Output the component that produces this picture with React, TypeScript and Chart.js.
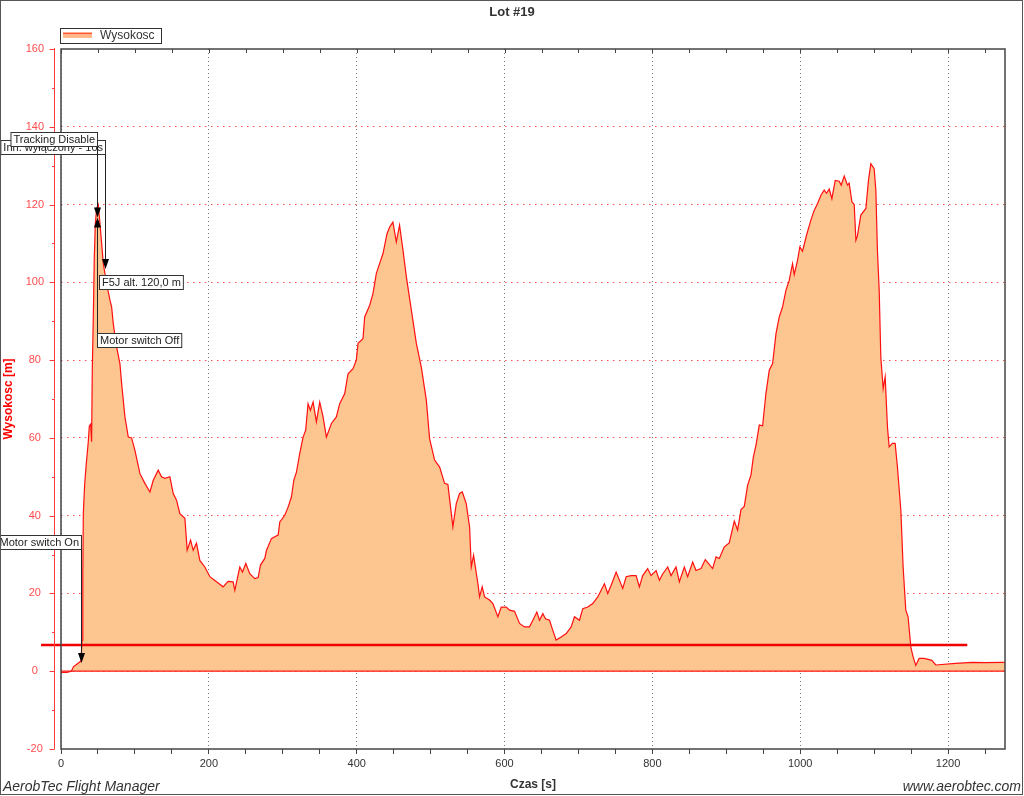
import React, { useEffect, useRef } from 'react';
import { Chart, registerables } from 'chart.js';

Chart.register(...registerables);

const TITLE = 'Lot #19';
const SERIES_LABEL = 'Wysokosc';
const X_TITLE = 'Czas [s]';
const Y_TITLE = 'Wysokosc [m]';
const FOOTER_LEFT = 'AerobTec Flight Manager';
const FOOTER_RIGHT = 'www.aerobtec.com';

const X_MIN = 0;
const X_MAX = 1277;
const Y_MIN = -20;
const Y_MAX = 160;
const X_LABEL_EVERY = 200;
const X_TICK_STEP = 50;
const Y_LABEL_EVERY = 20;
const Y_TICK_STEP = 10;

const timeSec = [
  0, 8, 14, 17, 20, 24, 27, 28.5, 29.5, 30.2, 32, 33.8, 36.9, 38.3, 40.1, 41.4, 42.3, 43.7, 45, 46.4,
  48.2, 50.5, 52.7, 55, 57.2, 61.7, 66.2, 68.5, 70.7, 75.2, 79.7, 82, 86.5, 91, 95.5, 100, 106.8, 113.5,
  120.3, 124.8, 131.5, 136, 140.5, 147.3, 151.8, 156.3, 160.8, 167.6, 170.7, 175.3, 178.8, 183.3, 187.8,
  194.6, 201.4, 210.4, 219.3, 226, 232.8, 235.1, 241.9, 245.5, 250, 255.4, 262.2, 266.7, 269.8, 275.7,
  278, 284.7, 289.2, 293.7, 296, 302.7, 307.2, 311.7, 314.9, 318.5, 323, 327.5, 331, 334.2, 337.4, 341,
  345.5, 350, 354.5, 359, 365.8, 372.5, 377, 383.8, 388.3, 395, 399.5, 401.8, 408.5, 410.8, 417.6, 422,
  426.6, 431, 435.6, 441, 444.6, 449, 453.6, 458, 462.6, 467.2, 474, 480.7, 487.4, 494.2, 498.6, 505.4,
  512.2, 518.9, 523.4, 530.1, 534.7, 539.2, 542.8, 548.2, 552.7, 555, 558.1, 564, 566.2, 569.8, 573,
  579.7, 584.2, 591, 595.5, 602.3, 606.8, 613.5, 620.3, 627, 633.8, 638.3, 643.7, 647.3, 651.8, 655.4,
  660.8, 665.3, 669.8, 676.6, 683.4, 690.1, 694.6, 701.4, 705.8, 712.6, 719.3, 726.1, 735.1, 739.6,
  744.2, 751, 759.9, 764.5, 771.2, 778, 782.4, 786.9, 793.6, 798.2, 805, 809.5, 813.9, 820.7, 825.3,
  832, 836.5, 843.2, 847.7, 854.5, 859, 865.8, 871.6, 881.5, 886.1, 890.5, 897.3, 904, 910.8, 915.3,
  919.9, 924.3, 928.8, 933.4, 936.5, 940.1, 944.6, 949.1, 953.6, 958.1, 962.6, 967.2, 971.6, 976.1,
  980.7, 985.1, 989.6, 991.9, 996.4, 999.5, 1003.1, 1008.5, 1014.4, 1018.9, 1023.4, 1028, 1032.4,
  1035.6, 1039.2, 1042.8, 1047.3, 1052.7, 1055.4, 1059.5, 1063.9, 1066.2, 1069.9, 1073, 1075.3, 1077.4,
  1082, 1088.8, 1092.3, 1095.5, 1100, 1102.3, 1104.4, 1106.8, 1109, 1112.2, 1114.9, 1118, 1120.3,
  1124.7, 1128.4, 1131.5, 1136.1, 1139.2, 1142.8, 1145.9, 1149.6, 1152.7, 1156.3, 1160.8, 1167.6,
  1174.3, 1178, 1183.4, 1210, 1233, 1250, 1273.4, 1277,
];

const altitude = [
  -0.3, -0.3, 0, 1.2, 1.6, 2.2, 2.6, 8, 25, 40.6, 48, 52.5, 59, 63, 63.5, 59, 77, 91, 106, 115,
  119, 120, 115.1, 110, 104.8, 99.7, 95.4, 93.7, 89.4, 83.4, 79.1, 74, 65.4, 60.2, 60, 56.8, 50.8, 48.3,
  46.1, 49.1, 51.7, 50, 49.6, 50, 45.7, 44, 40.5, 39.3, 31.1, 33.7, 31.1, 32.9, 28.5,
  26.8, 24.3, 23, 21.7, 23.1, 23, 20.8, 26.8, 25.5, 27.7, 25.1, 23.8, 24.1, 27.3, 29,
  31.1, 34.1, 34.6, 35, 38.4, 40.1, 42.2, 44.8, 49.1, 51.2, 56, 60.2, 62, 68.8, 67.1, 69.2,
  64.1, 69.2, 65.4, 60.2, 63.7, 65.4, 68.8, 71.4, 76.5, 77.8, 80, 84.3, 85.5, 91.1, 94.1, 97.1,
  102.3, 104.8, 107.4, 112.5, 114.2, 115.5, 110.4, 114.7, 108.3, 101.4, 92.8, 84.3, 78.2, 69.7, 59.8, 54.3,
  52.5, 48.3, 48, 37.1, 43.1, 45.7, 46.1, 43.1, 37.1, 26.8, 29.8, 22.5, 19.1, 21.7, 19.1,
  18.3, 17.4, 14, 16.5, 16.5, 15.7, 15.4, 12.3, 11.4, 11.4, 13.1, 15.2, 13.1, 14.8, 13.5,
  13.1, 10.5, 8, 8.8, 9.7, 11.4, 14, 13.1, 16.1, 16.5, 17.4, 19.1, 22.5, 20,
  22.1, 25.5, 21.3, 24.3, 24.6, 24.6, 21.7, 24.6, 26.4, 24.6, 25.9, 23.4, 25, 26.8, 24.6,
  26.8, 23, 26.8, 24.3, 28.1, 25.9, 26.4, 28.7, 26.4, 29.4, 29, 32, 33, 38.6, 36.3,
  41.6, 42.4, 47.8, 50.5, 55, 58.1, 63.3, 63.1, 71.4, 77.4, 79.1, 86.8, 91.1, 93.7,
  98, 100.5, 104.8, 102, 105.7, 109.1, 108, 112.1, 116, 118.5, 120.3, 122.4, 123.7,
  122.9, 124, 121.5, 126.2, 126, 125, 127.3, 125, 125.5, 120.7, 120, 110.8, 112,
  117.3, 119, 126.2, 130.5, 129.2, 123.7, 108.3, 98, 80.8, 72.7, 75.7, 62.8, 57.7,
  58.6, 58.6, 52.5, 41.4, 26.8, 15.7, 14, 6.2, 3.7, 1.5, 3.3, 3.3,
  3.0, 2.8, 1.6, 2.0, 2.3, 2.2, 2.3, 2.2,
];

// Horizontal reference line (data coords)
const refLineFrom = -27;
const refLineTo = 1226;
const refLineValue = 6.7;

// Event markers: arrow at (t, tip), label box edge at t, box vertical anchor value
const eventLabels = ['Motor switch On', 'Inn. wyłączony - 10s', 'Tracking Disable', 'Motor switch Off', 'F5J alt. 120,0 m'];
const eventTimes = [27, 59.5, 48.6, 48.6, 51.4];
const eventTips = [2.1, 103.4, 116.7, 116.7, null];
const eventBoxValues = [31.4, 132.9, 135.0, 86.9, 101.8];
const eventArrowDir = ['down', 'down', 'down', 'up', 'none'];

const FONT = '"Liberation Sans", Arial, Helvetica, sans-serif';

const decorPlugin = {
  id: 'decor',
  beforeDraw(chart: any) {
    const ctx = chart.ctx;
    ctx.save();
    ctx.fillStyle = '#ffffff';
    ctx.fillRect(0, 0, chart.width, chart.height);
    ctx.restore();
  },
  afterDatasetsDraw(chart: any) {
    const ctx: CanvasRenderingContext2D = chart.ctx;
    const a = chart.chartArea;
    const xs = chart.scales.x;
    const ys = chart.scales.y;
    ctx.save();

    // zero line
    const y0 = ys.getPixelForValue(0);
    ctx.strokeStyle = '#ff1a1a';
    ctx.lineWidth = 1.3;
    ctx.beginPath();
    ctx.moveTo(a.left, y0);
    ctx.lineTo(a.right, y0);
    ctx.stroke();

    // reference line
    const yr = Math.round(ys.getPixelForValue(refLineValue));
    ctx.strokeStyle = '#f00000';
    ctx.lineWidth = 2.5;
    ctx.beginPath();
    ctx.moveTo(xs.getPixelForValue(refLineFrom), yr);
    ctx.lineTo(xs.getPixelForValue(refLineTo), yr);
    ctx.stroke();

    // plot frame
    ctx.strokeStyle = '#444';
    ctx.lineWidth = 1.5;
    ctx.strokeRect(a.left, a.top, a.right - a.left, a.bottom - a.top);

    // top ticks
    ctx.lineWidth = 1;
    ctx.strokeStyle = '#444';
    for (let v = X_MIN; v <= X_MAX; v += X_TICK_STEP) {
      const px = Math.round(xs.getPixelForValue(v)) + 0.5;
      ctx.beginPath();
      ctx.moveTo(px, a.top);
      ctx.lineTo(px, a.top + 4);
      ctx.stroke();
    }

    // red y axis line + ticks
    const axX = a.left - 6.5;
    ctx.strokeStyle = '#ff3b3b';
    ctx.lineWidth = 1;
    ctx.beginPath();
    ctx.moveTo(axX, a.top - 1);
    ctx.lineTo(axX, a.bottom);
    ctx.stroke();
    for (let v = Y_MIN; v <= Y_MAX; v += Y_TICK_STEP) {
      const py = Math.round(ys.getPixelForValue(v)) + 0.5;
      const len = v % Y_LABEL_EVERY === 0 ? 5 : 2.5;
      ctx.beginPath();
      ctx.moveTo(axX - len, py);
      ctx.lineTo(axX, py);
      ctx.stroke();
    }

    // event annotations
    ctx.font = `11px ${FONT}`;
    ctx.textBaseline = 'middle';
    const drawArrow = (x: number, tipY: number, dir: string) => {
      ctx.fillStyle = '#000';
      ctx.beginPath();
      if (dir === 'down') {
        ctx.moveTo(x - 3.5, tipY - 10);
        ctx.lineTo(x + 3.5, tipY - 10);
      } else {
        ctx.moveTo(x - 3.5, tipY + 10);
        ctx.lineTo(x + 3.5, tipY + 10);
      }
      ctx.lineTo(x, tipY);
      ctx.closePath();
      ctx.fill();
    };
    const boxH = 14;
    for (let i = 0; i < eventLabels.length; i++) {
      const label = eventLabels[i];
      const ax = Math.round(xs.getPixelForValue(eventTimes[i])) + 0.5;
      const by = Math.round(ys.getPixelForValue(eventBoxValues[i])) + 0.5;
      const dir = eventArrowDir[i];
      const tw = ctx.measureText(label).width;
      const bw = tw + 5;
      let bx: number;
      let btop: number;
      if (dir === 'down') {
        bx = ax - bw;
        btop = by - boxH;
      } else {
        bx = ax;
        btop = by;
      }
      if (eventTips[i] !== null) {
        const tipY = ys.getPixelForValue(eventTips[i] as number);
        ctx.strokeStyle = '#222';
        ctx.lineWidth = 1;
        ctx.beginPath();
        if (dir === 'down') {
          ctx.moveTo(ax, by);
          ctx.lineTo(ax, tipY - 9);
        } else {
          ctx.moveTo(ax, btop);
          ctx.lineTo(ax, tipY + 9);
        }
        ctx.stroke();
        drawArrow(ax, tipY, dir);
      }
      ctx.fillStyle = '#ffffff';
      ctx.fillRect(bx, btop, bw, boxH);
      ctx.strokeStyle = '#333';
      ctx.lineWidth = 1;
      ctx.strokeRect(bx, btop, bw, boxH);
      ctx.fillStyle = '#222';
      ctx.textAlign = 'left';
      ctx.fillText(label, bx + 2.5, btop + boxH / 2 + 0.5);
    }

    // legend
    ctx.fillStyle = '#fff';
    ctx.fillRect(60.5, 28.5, 101, 15);
    ctx.strokeStyle = '#333';
    ctx.lineWidth = 1;
    ctx.strokeRect(60.5, 28.5, 101, 15);
    ctx.strokeStyle = '#ff5a2a';
    ctx.lineWidth = 2;
    ctx.beginPath();
    ctx.moveTo(63, 33.5);
    ctx.lineTo(92, 33.5);
    ctx.stroke();
    ctx.strokeStyle = '#fdb98a';
    ctx.lineWidth = 3;
    ctx.beginPath();
    ctx.moveTo(63, 36.5);
    ctx.lineTo(92, 36.5);
    ctx.stroke();
    ctx.fillStyle = '#333';
    ctx.font = `12px ${FONT}`;
    ctx.textAlign = 'left';
    ctx.fillText(SERIES_LABEL, 100, 36);

    // title
    ctx.font = `bold 13px ${FONT}`;
    ctx.textAlign = 'center';
    ctx.fillStyle = '#333';
    ctx.fillText(TITLE, 512, 12);

    // x title
    ctx.font = `bold 12px ${FONT}`;
    ctx.fillText(X_TITLE, (a.left + a.right) / 2, 785);

    // y title
    ctx.save();
    ctx.translate(9, (a.top + a.bottom) / 2);
    ctx.rotate(-Math.PI / 2);
    ctx.fillStyle = '#ff0000';
    ctx.font = `bold 12px ${FONT}`;
    ctx.fillText(Y_TITLE, 0, 0);
    ctx.restore();

    // footers
    ctx.font = `italic 14px ${FONT}`;
    ctx.fillStyle = '#333';
    ctx.textBaseline = 'alphabetic';
    ctx.textAlign = 'left';
    ctx.fillText(FOOTER_LEFT, 3, 791);
    ctx.textAlign = 'right';
    ctx.fillText(FOOTER_RIGHT, 1021, 791);

    // outer border
    ctx.strokeStyle = '#555';
    ctx.lineWidth = 1;
    ctx.strokeRect(0.5, 0.5, 1022, 794);

    ctx.restore();
  },
};

export default function App() {
  const ref = useRef<HTMLCanvasElement | null>(null);

  useEffect(() => {
    if (!ref.current) return;
    const points = timeSec.map((t, i) => ({ x: t, y: altitude[i] }));
    const chart = new Chart(ref.current, {
      type: 'line',
      data: {
        datasets: [
          {
            label: SERIES_LABEL,
            data: points,
            borderColor: '#ff1010',
            borderWidth: 1.2,
            backgroundColor: '#fdc590',
            fill: 'origin',
            pointRadius: 0,
            tension: 0,
          },
        ],
      },
      options: {
        animation: false,
        responsive: false,
        devicePixelRatio: 1,
        events: [],
        layout: { padding: { left: 0, right: 19, top: 49, bottom: 0 } },
        plugins: {
          legend: { display: false },
          title: { display: false },
          tooltip: { enabled: false },
        },
        scales: {
          x: {
            type: 'linear',
            min: X_MIN,
            max: X_MAX,
            afterFit: (s: any) => {
              s.height = 47;
            },
            border: { display: false, dash: [1, 3] },
            grid: {
              color: (c: any) =>
                c.tick && c.tick.value % X_LABEL_EVERY === 0 ? '#7a7a7a' : 'rgba(0,0,0,0)',
              tickColor: '#444',
              tickLength: 5,
              tickBorderDash: [],
              lineWidth: 1,
            },
            ticks: {
              stepSize: X_TICK_STEP,
              autoSkip: false,
              maxRotation: 0,
              includeBounds: false,
              padding: 3,
              color: '#333',
              font: { family: FONT, size: 11 },
              callback: (v: any) => (Number(v) % X_LABEL_EVERY === 0 ? String(v) : ''),
            },
          },
          y: {
            type: 'linear',
            min: Y_MIN,
            max: Y_MAX,
            afterFit: (s: any) => {
              s.width = 61;
            },
            border: { display: false, dash: [1.5, 4.5] },
            grid: {
              color: (c: any) =>
                c.tick && c.tick.value % Y_LABEL_EVERY === 0 && c.tick.value !== Y_MIN && c.tick.value !== Y_MAX
                  ? 'rgba(255,70,70,0.95)'
                  : 'rgba(0,0,0,0)',
              drawTicks: false,
              lineWidth: 1,
            },
            ticks: {
              stepSize: Y_TICK_STEP,
              autoSkip: false,
              crossAlign: 'center',
              padding: 17,
              color: '#ff4c4c',
              font: { family: FONT, size: 11 },
              callback: (v: any) => (Number(v) % Y_LABEL_EVERY === 0 ? String(v) : ''),
            },
          },
        },
      },
      plugins: [decorPlugin],
    } as any);
    return () => chart.destroy();
  }, []);

  return (
    <div style={{ position: 'absolute', left: 0, top: 0, width: 1024, height: 796, background: '#fff' }}>
      <canvas ref={ref} width={1024} height={796} style={{ display: 'block' }} />
    </div>
  );
}
